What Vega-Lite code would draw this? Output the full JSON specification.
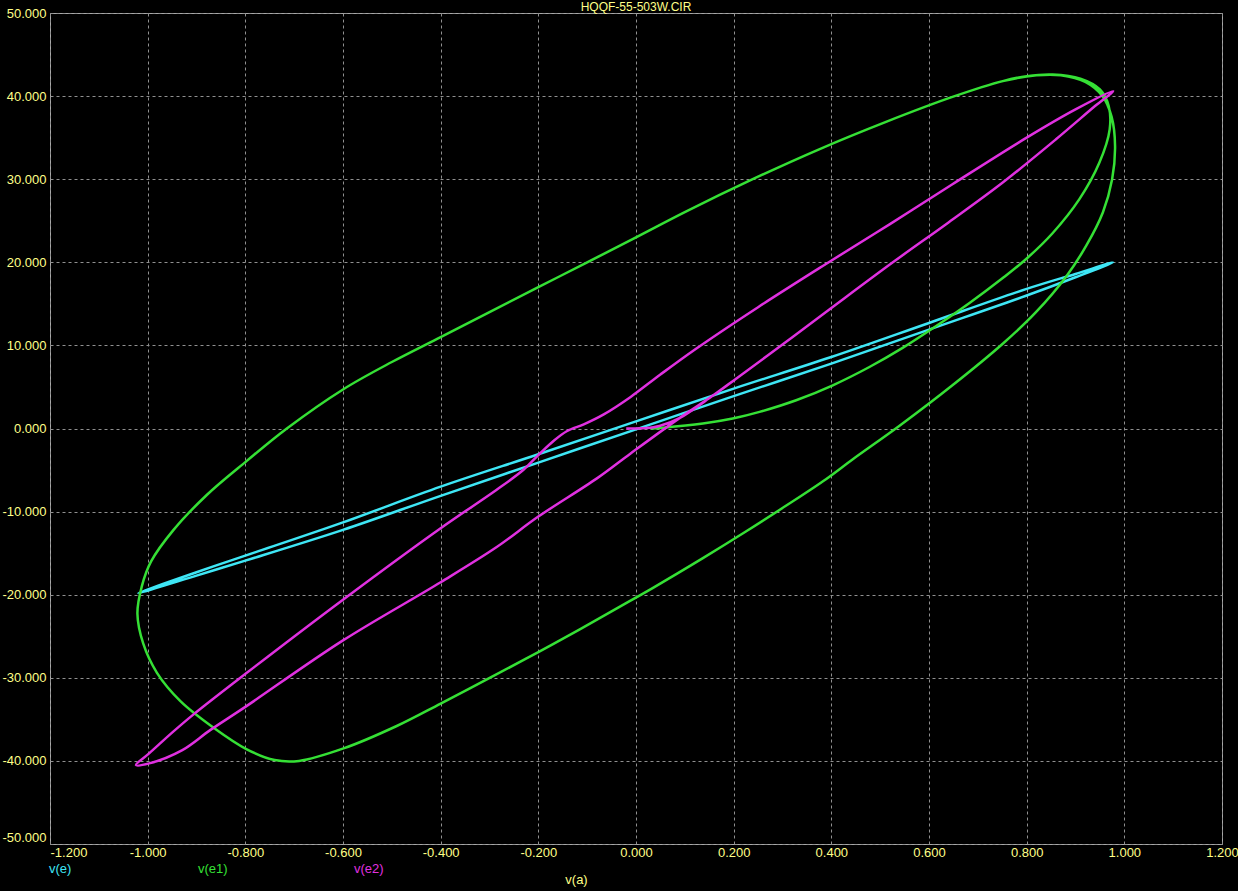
{
  "$schema": "https://vega.github.io/schema/vega-lite/v6.json",
  "width": 1172,
  "height": 831,
  "autosize": {"type": "none"},
  "padding": {"left": 50, "top": 13, "right": 16, "bottom": 47},
  "background": "#000000",
  "title": {"text": "HQQF-55-503W.CIR", "color": "#FFFF88", "fontSize": 12, "fontWeight": "normal", "font": "Liberation Sans", "anchor": "middle", "offset": -19, "baseline": "bottom"},
  "config": {
    "view": {"stroke": "#a8a8a8", "strokeWidth": 1, "fill": "#000000"},
    "axis": {"labelColor": "#FFFF88", "labelFont": "Liberation Sans", "labelFontSize": 13, "domain": false, "ticks": false, "grid": true, "gridColor": "#909090", "gridDash": [3, 3], "gridWidth": 1, "titleColor": "#FFFF88", "titleFont": "Liberation Sans", "titleFontSize": 13, "titleFontWeight": "normal",
      "labelExpr": "(datum.value < 0 ? '-' : '') + format(abs(datum.value), '.3f')"}
  },
  "data": {"values": [
    {"series":"v(e)","t":0,"va":0.0,"v":-0.1},{"series":"v(e)","t":1,"va":0.2,"v":3.9},{"series":"v(e)","t":2,"va":0.4,"v":7.8},{"series":"v(e)","t":3,"va":0.6,"v":11.9},{"series":"v(e)","t":4,"va":0.8,"v":16.0},{"series":"v(e)","t":5,"va":0.9,"v":18.2},{"series":"v(e)","t":6,"va":0.977,"v":20.0},
    {"series":"v(e)","t":7,"va":0.9,"v":18.6},{"series":"v(e)","t":8,"va":0.8,"v":16.8},{"series":"v(e)","t":9,"va":0.6,"v":12.7},{"series":"v(e)","t":10,"va":0.4,"v":8.6},{"series":"v(e)","t":11,"va":0.2,"v":4.8},{"series":"v(e)","t":12,"va":0.0,"v":0.85},{"series":"v(e)","t":13,"va":-0.2,"v":-3.1},{"series":"v(e)","t":14,"va":-0.4,"v":-7.0},{"series":"v(e)","t":15,"va":-0.6,"v":-11.3},{"series":"v(e)","t":16,"va":-0.8,"v":-15.3},{"series":"v(e)","t":17,"va":-0.9,"v":-17.3},{"series":"v(e)","t":18,"va":-1.019,"v":-19.8},
    {"series":"v(e)","t":19,"va":-0.9,"v":-17.7},{"series":"v(e)","t":20,"va":-0.8,"v":-15.9},{"series":"v(e)","t":21,"va":-0.6,"v":-12.2},{"series":"v(e)","t":22,"va":-0.4,"v":-8.1},{"series":"v(e)","t":23,"va":-0.2,"v":-4.1},{"series":"v(e)","t":24,"va":0.0,"v":-0.1},

    {"series":"v(e1)","t":0,"va":0.03,"v":0.0},{"series":"v(e1)","t":1,"va":0.055,"v":0.1},{"series":"v(e1)","t":2,"va":0.137,"v":0.6},{"series":"v(e1)","t":3,"va":0.198,"v":1.2},{"series":"v(e1)","t":4,"va":0.253,"v":2.0},{"series":"v(e1)","t":5,"va":0.328,"v":3.4},{"series":"v(e1)","t":6,"va":0.403,"v":5.2},{"series":"v(e1)","t":7,"va":0.478,"v":7.4},{"series":"v(e1)","t":8,"va":0.546,"v":9.7},{"series":"v(e1)","t":9,"va":0.614,"v":12.3},{"series":"v(e1)","t":10,"va":0.683,"v":15.1},{"series":"v(e1)","t":11,"va":0.751,"v":18.1},{"series":"v(e1)","t":12,"va":0.799,"v":20.4},{"series":"v(e1)","t":13,"va":0.853,"v":23.5},{"series":"v(e1)","t":14,"va":0.908,"v":27.6},{"series":"v(e1)","t":15,"va":0.949,"v":32.0},{"series":"v(e1)","t":16,"va":0.97,"v":36.0},{"series":"v(e1)","t":17,"va":0.968,"v":38.8},{"series":"v(e1)","t":18,"va":0.95,"v":40.8},{"series":"v(e1)","t":19,"va":0.91,"v":42.1},{"series":"v(e1)","t":20,"va":0.853,"v":42.6},
    {"series":"v(e1)","t":21,"va":0.8,"v":42.4},{"series":"v(e1)","t":22,"va":0.751,"v":41.8},{"series":"v(e1)","t":23,"va":0.648,"v":39.9},{"series":"v(e1)","t":24,"va":0.512,"v":36.9},{"series":"v(e1)","t":25,"va":0.375,"v":33.6},{"series":"v(e1)","t":26,"va":0.239,"v":30.0},{"series":"v(e1)","t":27,"va":0.102,"v":26.1},{"series":"v(e1)","t":28,"va":0.0,"v":23.0},{"series":"v(e1)","t":29,"va":-0.1,"v":20.0},{"series":"v(e1)","t":30,"va":-0.2,"v":17.0},{"series":"v(e1)","t":31,"va":-0.3,"v":14.0},{"series":"v(e1)","t":32,"va":-0.4,"v":11.0},{"series":"v(e1)","t":33,"va":-0.5,"v":8.0},{"series":"v(e1)","t":34,"va":-0.6,"v":4.7},{"series":"v(e1)","t":35,"va":-0.715,"v":0.0},{"series":"v(e1)","t":36,"va":-0.797,"v":-3.9},{"series":"v(e1)","t":37,"va":-0.879,"v":-8.0},{"series":"v(e1)","t":38,"va":-0.947,"v":-12.2},{"series":"v(e1)","t":39,"va":-0.993,"v":-16.0},{"series":"v(e1)","t":40,"va":-1.012,"v":-19.0},{"series":"v(e1)","t":41,"va":-1.021,"v":-22.3},{"series":"v(e1)","t":42,"va":-1.009,"v":-25.9},{"series":"v(e1)","t":43,"va":-0.981,"v":-29.4},{"series":"v(e1)","t":44,"va":-0.933,"v":-32.8},{"series":"v(e1)","t":45,"va":-0.865,"v":-36.0},{"series":"v(e1)","t":46,"va":-0.797,"v":-38.6},{"series":"v(e1)","t":47,"va":-0.74,"v":-39.9},{"series":"v(e1)","t":48,"va":-0.69,"v":-40.0},{"series":"v(e1)","t":49,"va":-0.599,"v":-38.5},{"series":"v(e1)","t":50,"va":-0.49,"v":-35.8},{"series":"v(e1)","t":51,"va":-0.4,"v":-33.1},{"series":"v(e1)","t":52,"va":-0.286,"v":-29.6},{"series":"v(e1)","t":53,"va":-0.2,"v":-26.9},{"series":"v(e1)","t":54,"va":-0.116,"v":-24.2},{"series":"v(e1)","t":55,"va":-0.014,"v":-20.8},{"series":"v(e1)","t":56,"va":0.034,"v":-19.2},{"series":"v(e1)","t":57,"va":0.137,"v":-15.6},{"series":"v(e1)","t":58,"va":0.225,"v":-12.4},{"series":"v(e1)","t":59,"va":0.307,"v":-9.3},{"series":"v(e1)","t":60,"va":0.389,"v":-6.1},{"series":"v(e1)","t":61,"va":0.444,"v":-3.7},{"series":"v(e1)","t":62,"va":0.539,"v":0.3},{"series":"v(e1)","t":63,"va":0.648,"v":5.2},{"series":"v(e1)","t":64,"va":0.751,"v":10.2},{"series":"v(e1)","t":65,"va":0.819,"v":14.0},{"series":"v(e1)","t":66,"va":0.881,"v":18.3},{"series":"v(e1)","t":67,"va":0.922,"v":22.0},{"series":"v(e1)","t":68,"va":0.956,"v":26.0},{"series":"v(e1)","t":69,"va":0.975,"v":30.0},{"series":"v(e1)","t":70,"va":0.981,"v":34.0},{"series":"v(e1)","t":71,"va":0.974,"v":37.5},{"series":"v(e1)","t":72,"va":0.955,"v":40.0},{"series":"v(e1)","t":73,"va":0.92,"v":41.7},{"series":"v(e1)","t":74,"va":0.87,"v":42.5},{"series":"v(e1)","t":75,"va":0.82,"v":42.5},{"series":"v(e1)","t":76,"va":0.751,"v":41.8},{"series":"v(e1)","t":77,"va":0.648,"v":39.9},

    {"series":"v(e2)","t":0,"va":-0.02,"v":0.0},{"series":"v(e2)","t":1,"va":0.02,"v":0.05},{"series":"v(e2)","t":2,"va":0.048,"v":0.3},{"series":"v(e2)","t":3,"va":0.089,"v":1.25},{"series":"v(e2)","t":4,"va":0.156,"v":3.9},{"series":"v(e2)","t":5,"va":0.205,"v":6.0},{"series":"v(e2)","t":6,"va":0.3,"v":10.1},{"series":"v(e2)","t":7,"va":0.4,"v":14.5},{"series":"v(e2)","t":8,"va":0.526,"v":20.0},{"series":"v(e2)","t":9,"va":0.64,"v":24.8},{"series":"v(e2)","t":10,"va":0.751,"v":29.6},{"series":"v(e2)","t":11,"va":0.86,"v":34.8},{"series":"v(e2)","t":12,"va":0.94,"v":38.8},{"series":"v(e2)","t":13,"va":0.977,"v":40.6},
    {"series":"v(e2)","t":14,"va":0.9,"v":38.4},{"series":"v(e2)","t":15,"va":0.8,"v":35.0},{"series":"v(e2)","t":16,"va":0.648,"v":29.4},{"series":"v(e2)","t":17,"va":0.52,"v":24.6},{"series":"v(e2)","t":18,"va":0.389,"v":19.8},{"series":"v(e2)","t":19,"va":0.25,"v":14.6},{"series":"v(e2)","t":20,"va":0.123,"v":9.6},{"series":"v(e2)","t":21,"va":0.05,"v":6.5},{"series":"v(e2)","t":22,"va":-0.011,"v":3.8},{"series":"v(e2)","t":23,"va":-0.066,"v":1.7},{"series":"v(e2)","t":24,"va":-0.107,"v":0.5},{"series":"v(e2)","t":25,"va":-0.141,"v":-0.3},{"series":"v(e2)","t":26,"va":-0.169,"v":-1.5},{"series":"v(e2)","t":27,"va":-0.2,"v":-3.2},{"series":"v(e2)","t":28,"va":-0.231,"v":-5.0},{"series":"v(e2)","t":29,"va":-0.286,"v":-7.4},{"series":"v(e2)","t":30,"va":-0.4,"v":-12.0},{"series":"v(e2)","t":31,"va":-0.6,"v":-20.6},{"series":"v(e2)","t":32,"va":-0.797,"v":-29.4},{"series":"v(e2)","t":33,"va":-0.906,"v":-34.4},{"series":"v(e2)","t":34,"va":-0.95,"v":-36.6},{"series":"v(e2)","t":35,"va":-0.997,"v":-39.1},{"series":"v(e2)","t":36,"va":-1.024,"v":-40.5},
    {"series":"v(e2)","t":37,"va":-0.997,"v":-40.3},{"series":"v(e2)","t":38,"va":-0.929,"v":-38.7},{"series":"v(e2)","t":39,"va":-0.872,"v":-36.3},{"series":"v(e2)","t":40,"va":-0.8,"v":-33.5},{"series":"v(e2)","t":41,"va":-0.6,"v":-25.5},{"series":"v(e2)","t":42,"va":-0.4,"v":-18.5},{"series":"v(e2)","t":43,"va":-0.286,"v":-14.3},{"series":"v(e2)","t":44,"va":-0.2,"v":-10.6},{"series":"v(e2)","t":45,"va":-0.08,"v":-6.0},{"series":"v(e2)","t":46,"va":-0.011,"v":-3.0},{"series":"v(e2)","t":47,"va":0.089,"v":1.25},{"series":"v(e2)","t":48,"va":0.156,"v":3.9},{"series":"v(e2)","t":49,"va":0.205,"v":6.0}
  ]},
  "mark": {"type": "line", "strokeWidth": 2.5, "interpolate": "catmull-rom", "clip": true},
  "encoding": {
    "x": {"field": "va", "type": "quantitative", "scale": {"domain": [-1.2, 1.2], "nice": false, "zero": false},
      "axis": {"values": [-1.2,-1.0,-0.8,-0.6,-0.4,-0.2,0,0.2,0.4,0.6,0.8,1.0,1.2], "title": "v(a)", "titleX": 526, "titleY": 35, "titleBaseline": "middle", "titleAlign": "center", "labelPadding": 2, "labelBaseline": "top",
        "labelAlign": {"condition": {"test": "datum.value < -1.1", "value": "left"}, "value": "center"}}},
    "y": {"field": "v", "type": "quantitative", "scale": {"domain": [-50, 50], "nice": false, "zero": false},
      "axis": {"values": [-50,-40,-30,-20,-10,0,10,20,30,40,50], "title": null, "labelPadding": 4,
        "labelBaseline": {"condition": {"test": "datum.value < -45", "value": "bottom"}, "value": "middle"}}},
    "color": {"field": "series", "type": "nominal",
      "scale": {"domain": ["v(e)", "v(e1)", "v(e2)"], "range": ["#3EE6F5", "#35E035", "#E030E0"]},
      "legend": {"orient": "none", "legendX": -14, "legendY": 849, "direction": "horizontal", "title": null, "symbolType": "circle", "symbolSize": 1, "symbolOpacity": 0, "labelOffset": 0, "columnPadding": 113, "labelFont": "Liberation Sans", "labelFontSize": 13,
        "labelColor": {"expr": "scale('color', datum.value)"}}},
    "order": {"field": "t", "type": "quantitative"}
  }
}
